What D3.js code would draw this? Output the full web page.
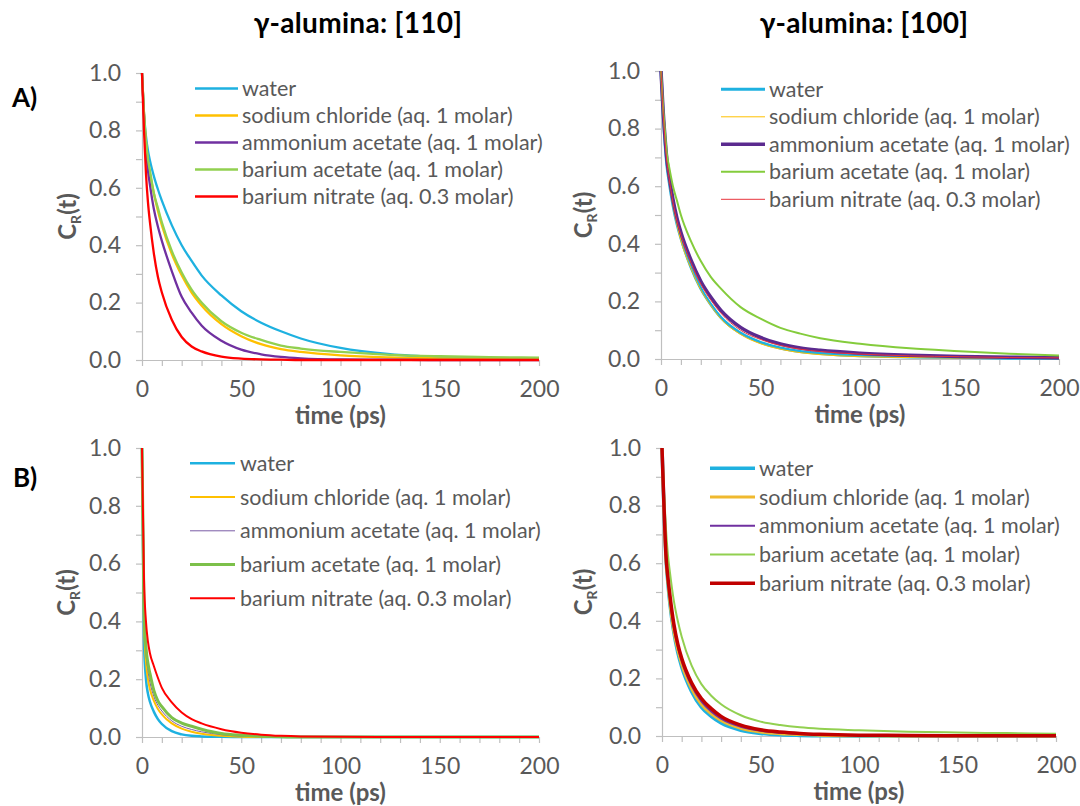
<!DOCTYPE html>
<html>
<head>
<meta charset="utf-8">
<script src="https://cdn.jsdelivr.net/npm/d3@7"></script>
<style>
  html, body { margin: 0; padding: 0; background: #ffffff; }
  svg { display: block; }
  text { font-family: Lato, "Open Sans", "Noto Sans", sans-serif; }
</style>
</head>
<body>
<svg id="chart" width="1080" height="806"></svg>
<script>
// ---- data ---------------------------------------------------------------
// sampling times (ps) shared by every curve
const timePs = [0, 1, 2, 3, 4, 6, 8, 10, 15, 20, 25, 30, 40, 50, 60, 70, 80, 100, 125, 150, 175, 200];

const seriesNames = [
  "water",
  "sodium chloride (aq. 1 molar)",
  "ammonium acetate (aq. 1 molar)",
  "barium acetate (aq. 1 molar)",
  "barium nitrate (aq. 0.3 molar)"
];

const columnTitles = ["γ-alumina: [110]", "γ-alumina: [100]"];
const rowLabels = ["A)", "B)"];
const xTickLabels = [0, 50, 100, 150, 200];
const yTickLabels = [0, 0.2, 0.4, 0.6, 0.8, 1.0];

// C_R(t) per series, in the order of seriesNames
const rowA110 = [
  [1, 0.86, 0.78, 0.73, 0.695, 0.64, 0.595, 0.555, 0.47, 0.40, 0.345, 0.295, 0.225, 0.17, 0.13, 0.10, 0.075, 0.042, 0.02, 0.01, 0.006, 0.004],
  [1, 0.86, 0.76, 0.69, 0.65, 0.58, 0.52, 0.47, 0.37, 0.295, 0.235, 0.19, 0.125, 0.083, 0.055, 0.038, 0.028, 0.016, 0.009, 0.006, 0.004, 0.003],
  [1, 0.85, 0.74, 0.66, 0.61, 0.525, 0.465, 0.415, 0.31, 0.22, 0.165, 0.12, 0.067, 0.036, 0.02, 0.011, 0.006, 0.002, 0.001, 0, 0, 0],
  [1, 0.86, 0.76, 0.70, 0.66, 0.58, 0.53, 0.48, 0.38, 0.305, 0.245, 0.20, 0.135, 0.095, 0.07, 0.05, 0.04, 0.028, 0.018, 0.013, 0.01, 0.008],
  [1, 0.80, 0.65, 0.55, 0.48, 0.37, 0.29, 0.235, 0.14, 0.08, 0.047, 0.03, 0.012, 0.005, 0.002, 0.001, 0, 0, 0, 0, 0, 0]
];
const rowA100 = [
  [1, 0.86, 0.75, 0.67, 0.62, 0.535, 0.47, 0.42, 0.32, 0.245, 0.19, 0.145, 0.09, 0.058, 0.038, 0.026, 0.019, 0.011, 0.007, 0.005, 0.003, 0.002],
  [1, 0.86, 0.75, 0.665, 0.615, 0.53, 0.465, 0.41, 0.315, 0.24, 0.185, 0.14, 0.085, 0.053, 0.034, 0.022, 0.015, 0.008, 0.005, 0.003, 0.002, 0.001],
  [1, 0.87, 0.77, 0.69, 0.64, 0.555, 0.49, 0.44, 0.345, 0.27, 0.215, 0.17, 0.11, 0.075, 0.052, 0.038, 0.03, 0.02, 0.013, 0.009, 0.006, 0.004],
  [1, 0.88, 0.79, 0.71, 0.67, 0.60, 0.55, 0.50, 0.41, 0.34, 0.285, 0.245, 0.18, 0.14, 0.108, 0.088, 0.072, 0.053, 0.037, 0.027, 0.018, 0.012],
  [1, 0.87, 0.76, 0.68, 0.63, 0.545, 0.48, 0.43, 0.335, 0.26, 0.205, 0.16, 0.10, 0.068, 0.047, 0.034, 0.026, 0.017, 0.011, 0.008, 0.005, 0.004]
];
const rowB110 = [
  [1, 0.33, 0.20, 0.15, 0.122, 0.087, 0.062, 0.045, 0.02, 0.009, 0.004, 0.002, 0.0005, 0, 0, 0, 0, 0, 0, 0, 0, 0],
  [1, 0.40, 0.26, 0.20, 0.165, 0.125, 0.097, 0.078, 0.047, 0.029, 0.018, 0.011, 0.004, 0.001, 0, 0, 0, 0, 0, 0, 0, 0],
  [1, 0.42, 0.29, 0.23, 0.19, 0.14, 0.11, 0.09, 0.056, 0.037, 0.026, 0.018, 0.008, 0.003, 0.001, 0, 0, 0, 0, 0, 0, 0],
  [1, 0.44, 0.31, 0.255, 0.22, 0.16, 0.125, 0.105, 0.067, 0.048, 0.037, 0.027, 0.012, 0.006, 0.003, 0.001, 0, 0, 0, 0, 0, 0],
  [1, 0.55, 0.40, 0.33, 0.29, 0.245, 0.205, 0.17, 0.12, 0.085, 0.062, 0.047, 0.027, 0.015, 0.008, 0.004, 0.002, 0.001, 0, 0, 0, 0]
];
const rowB100 = [
  [1, 0.79, 0.62, 0.53, 0.46, 0.36, 0.29, 0.24, 0.155, 0.10, 0.068, 0.045, 0.02, 0.009, 0.004, 0.002, 0.001, 0, 0, 0, 0, 0],
  [1, 0.79, 0.62, 0.535, 0.465, 0.365, 0.30, 0.25, 0.165, 0.11, 0.077, 0.054, 0.027, 0.014, 0.008, 0.005, 0.003, 0.001, 0, 0, 0, 0],
  [1, 0.80, 0.625, 0.54, 0.475, 0.375, 0.31, 0.26, 0.175, 0.12, 0.085, 0.06, 0.032, 0.018, 0.011, 0.007, 0.005, 0.002, 0.001, 0.001, 0, 0],
  [1, 0.85, 0.72, 0.63, 0.57, 0.47, 0.40, 0.345, 0.245, 0.18, 0.14, 0.11, 0.072, 0.05, 0.038, 0.03, 0.025, 0.02, 0.015, 0.012, 0.01, 0.008],
  [1, 0.80, 0.63, 0.55, 0.49, 0.39, 0.32, 0.27, 0.185, 0.13, 0.095, 0.068, 0.038, 0.022, 0.014, 0.009, 0.006, 0.003, 0.002, 0.001, 0.001, 0.001]
];

// ---- layout & styling ---------------------------------------------------
const AXIS_GREY = "#bfbfbf";
const TEXT_GREY = "#595959";

const panels = [
  {
    values: rowA110, x: [142, 539], y: [360, 73],
    colors: ["#1eb1e0", "#ffc000", "#7030a0", "#92d050", "#ff0000"],
    widths: [2.3, 2.3, 2.3, 2.3, 2.3],
    legend: { x0: 195, x1: 238, tx: 242, y0: 88.5, dy: 27 },
    yLabelX: 67
  },
  {
    values: rowA100, x: [661, 1059], y: [359, 71],
    colors: ["#1eb1e0", "#ffc000", "#5b2a8f", "#84cc3c", "#e8343c"],
    widths: [3, 1, 3.5, 2, 1],
    legend: { x0: 721, x1: 765, tx: 769, y0: 89.3, dy: 27.5 },
    yLabelX: 583
  },
  {
    values: rowB110, x: [142, 539], y: [737, 448],
    colors: ["#1eb1e0", "#ffc000", "#7a5ca6", "#7cc04a", "#ff0000"],
    widths: [2.5, 2, 1, 3, 2],
    legend: { x0: 190, x1: 235, tx: 240, y0: 463.3, dy: 33.75 },
    yLabelX: 66
  },
  {
    values: rowB100, x: [662, 1056], y: [736, 448],
    colors: ["#1eb1e0", "#f0b92e", "#7030a0", "#92d050", "#c00000"],
    widths: [3.5, 3, 2, 2, 3.5],
    legend: { x0: 710, x1: 755, tx: 759, y0: 468.3, dy: 28.75 },
    yLabelX: 583
  }
];

const svg = d3.select("#chart");

// column titles and row labels
[358, 864].forEach((cx, i) => {
  svg.append("text")
    .attr("x", cx).attr("y", 33)
    .attr("text-anchor", "middle")
    .attr("font-size", 28).attr("font-weight", 700)
    .attr("letter-spacing", 0.3)
    .attr("fill", "#000")
    .text(columnTitles[i]);
});
[[12, 107], [13, 487]].forEach(([x, y], i) => {
  svg.append("text")
    .attr("x", x).attr("y", y)
    .attr("font-size", 26).attr("font-weight", 700)
    .attr("fill", "#000")
    .text(rowLabels[i]);
});

panels.forEach(p => {
  const x = d3.scaleLinear().domain([0, 200]).range(p.x);
  const y = d3.scaleLinear().domain([0, 1]).range(p.y);
  const g = svg.append("g");

  // x axis: ticks every 10 ps, labels every 50 ps
  const xAxis = d3.axisBottom(x)
    .tickValues(d3.range(0, 201, 10))
    .tickFormat(d => xTickLabels.includes(d) ? d : "")
    .tickSize(6).tickSizeOuter(0).tickPadding(15);
  const gx = g.append("g").attr("transform", `translate(0,${p.y[0]})`).call(xAxis);

  // y axis: ticks every 0.1, labels every 0.2
  const yAxis = d3.axisLeft(y)
    .tickValues(d3.range(0, 11).map(k => k / 10))
    .tickFormat(d => yTickLabels.some(v => Math.abs(v - d) < 1e-9) ? d3.format(".1f")(d) : "")
    .tickSize(6).tickSizeOuter(0).tickPadding(15);
  const gy = g.append("g").attr("transform", `translate(${p.x[0]},0)`).call(yAxis);

  [gx, gy].forEach(a => {
    a.select(".domain").attr("stroke", AXIS_GREY).attr("stroke-width", 1.2);
    a.selectAll(".tick line").attr("stroke", AXIS_GREY).attr("stroke-width", 1.2);
    a.selectAll(".tick text")
      .attr("fill", TEXT_GREY)
      .attr("font-size", 23)
      .attr("font-family", "Lato, 'Open Sans', sans-serif");
  });

  // axis titles
  g.append("text")
    .attr("x", (p.x[0] + p.x[1]) / 2).attr("y", p.y[0] + 64)
    .attr("text-anchor", "middle")
    .attr("font-size", 24).attr("font-weight", 700)
    .attr("fill", TEXT_GREY)
    .text("time (ps)");

  const yl = g.append("text")
    .attr("transform", `translate(${p.yLabelX + 9},${(p.y[0] + p.y[1]) / 2}) rotate(-90)`)
    .attr("text-anchor", "middle")
    .attr("font-size", 24).attr("font-weight", 700)
    .attr("fill", TEXT_GREY);
  yl.append("tspan").text("C");
  yl.append("tspan").attr("font-size", 14).attr("dy", 5).text("R");
  yl.append("tspan").attr("dy", -5).text("(t)");

  // curves
  const line = d3.line()
    .x((v, i) => x(timePs[i]))
    .y(v => y(v))
    .curve(d3.curveMonotoneX);

  p.values.forEach((vals, s) => {
    g.append("path")
      .datum(vals)
      .attr("fill", "none")
      .attr("stroke", p.colors[s])
      .attr("stroke-width", p.widths[s])
      .attr("stroke-linejoin", "round")
      .attr("d", line);
  });

  // legend
  seriesNames.forEach((name, s) => {
    const ly = p.legend.y0 + s * p.legend.dy;
    g.append("line")
      .attr("x1", p.legend.x0).attr("x2", p.legend.x1)
      .attr("y1", ly).attr("y2", ly)
      .attr("stroke", p.colors[s])
      .attr("stroke-width", p.widths[s]);
    g.append("text")
      .attr("x", p.legend.tx).attr("y", ly)
      .attr("dy", "0.35em")
      .attr("font-size", 21.5)
      .attr("fill", TEXT_GREY)
      .text(name);
  });
});
</script>
</body>
</html>
